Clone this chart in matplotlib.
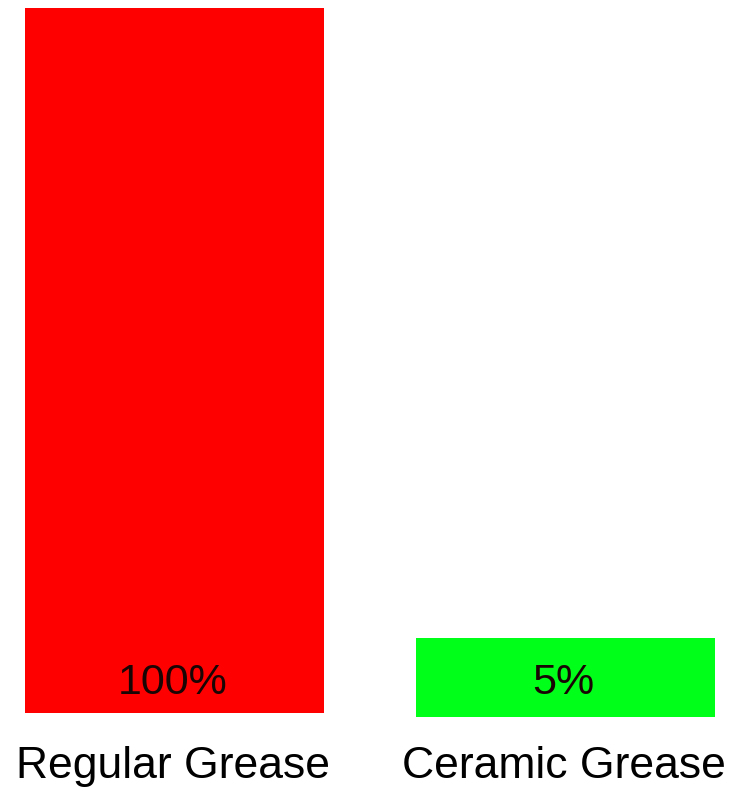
import matplotlib
matplotlib.use("Agg")
import matplotlib.pyplot as plt

categories = ["Regular Grease", "Ceramic Grease"]
bar_heights = [99.4, 11.1]
bar_bottoms = [0.6, 0.0]
value_labels = ["100%", "5%"]
colors = ["#ff0000", "#00ff19"]

plt.rcParams['font.family'] = ['Liberation Sans', 'DejaVu Sans']

fig = plt.figure(figsize=(7.49, 7.92), dpi=100)
# axes spans from the green bar's base up to the top of the red bar
ax = fig.add_axes([0, 75 / 792, 1, 709 / 792])

x = [0, 1]
ax.bar(x, bar_heights, bottom=bar_bottoms, width=0.766, color=colors)
ax.set_xlim(-0.4463, 1.4693)
ax.set_ylim(0, 100)

for xi, lab in zip(x, value_labels):
    ax.text(xi - 0.005, 4.8, lab, ha='center', va='center', fontsize=31, color='#1a0505')

# category names under the bars
for xi, cat in zip(x, categories):
    ax.text(xi - 0.005, -0.086, cat, ha='center', va='baseline', fontsize=32,
            color='black', transform=ax.get_xaxis_transform())

ax.set_xticks([])
ax.set_yticks([])
for s in ax.spines.values():
    s.set_visible(False)

fig.savefig("out.png", dpi=100)
